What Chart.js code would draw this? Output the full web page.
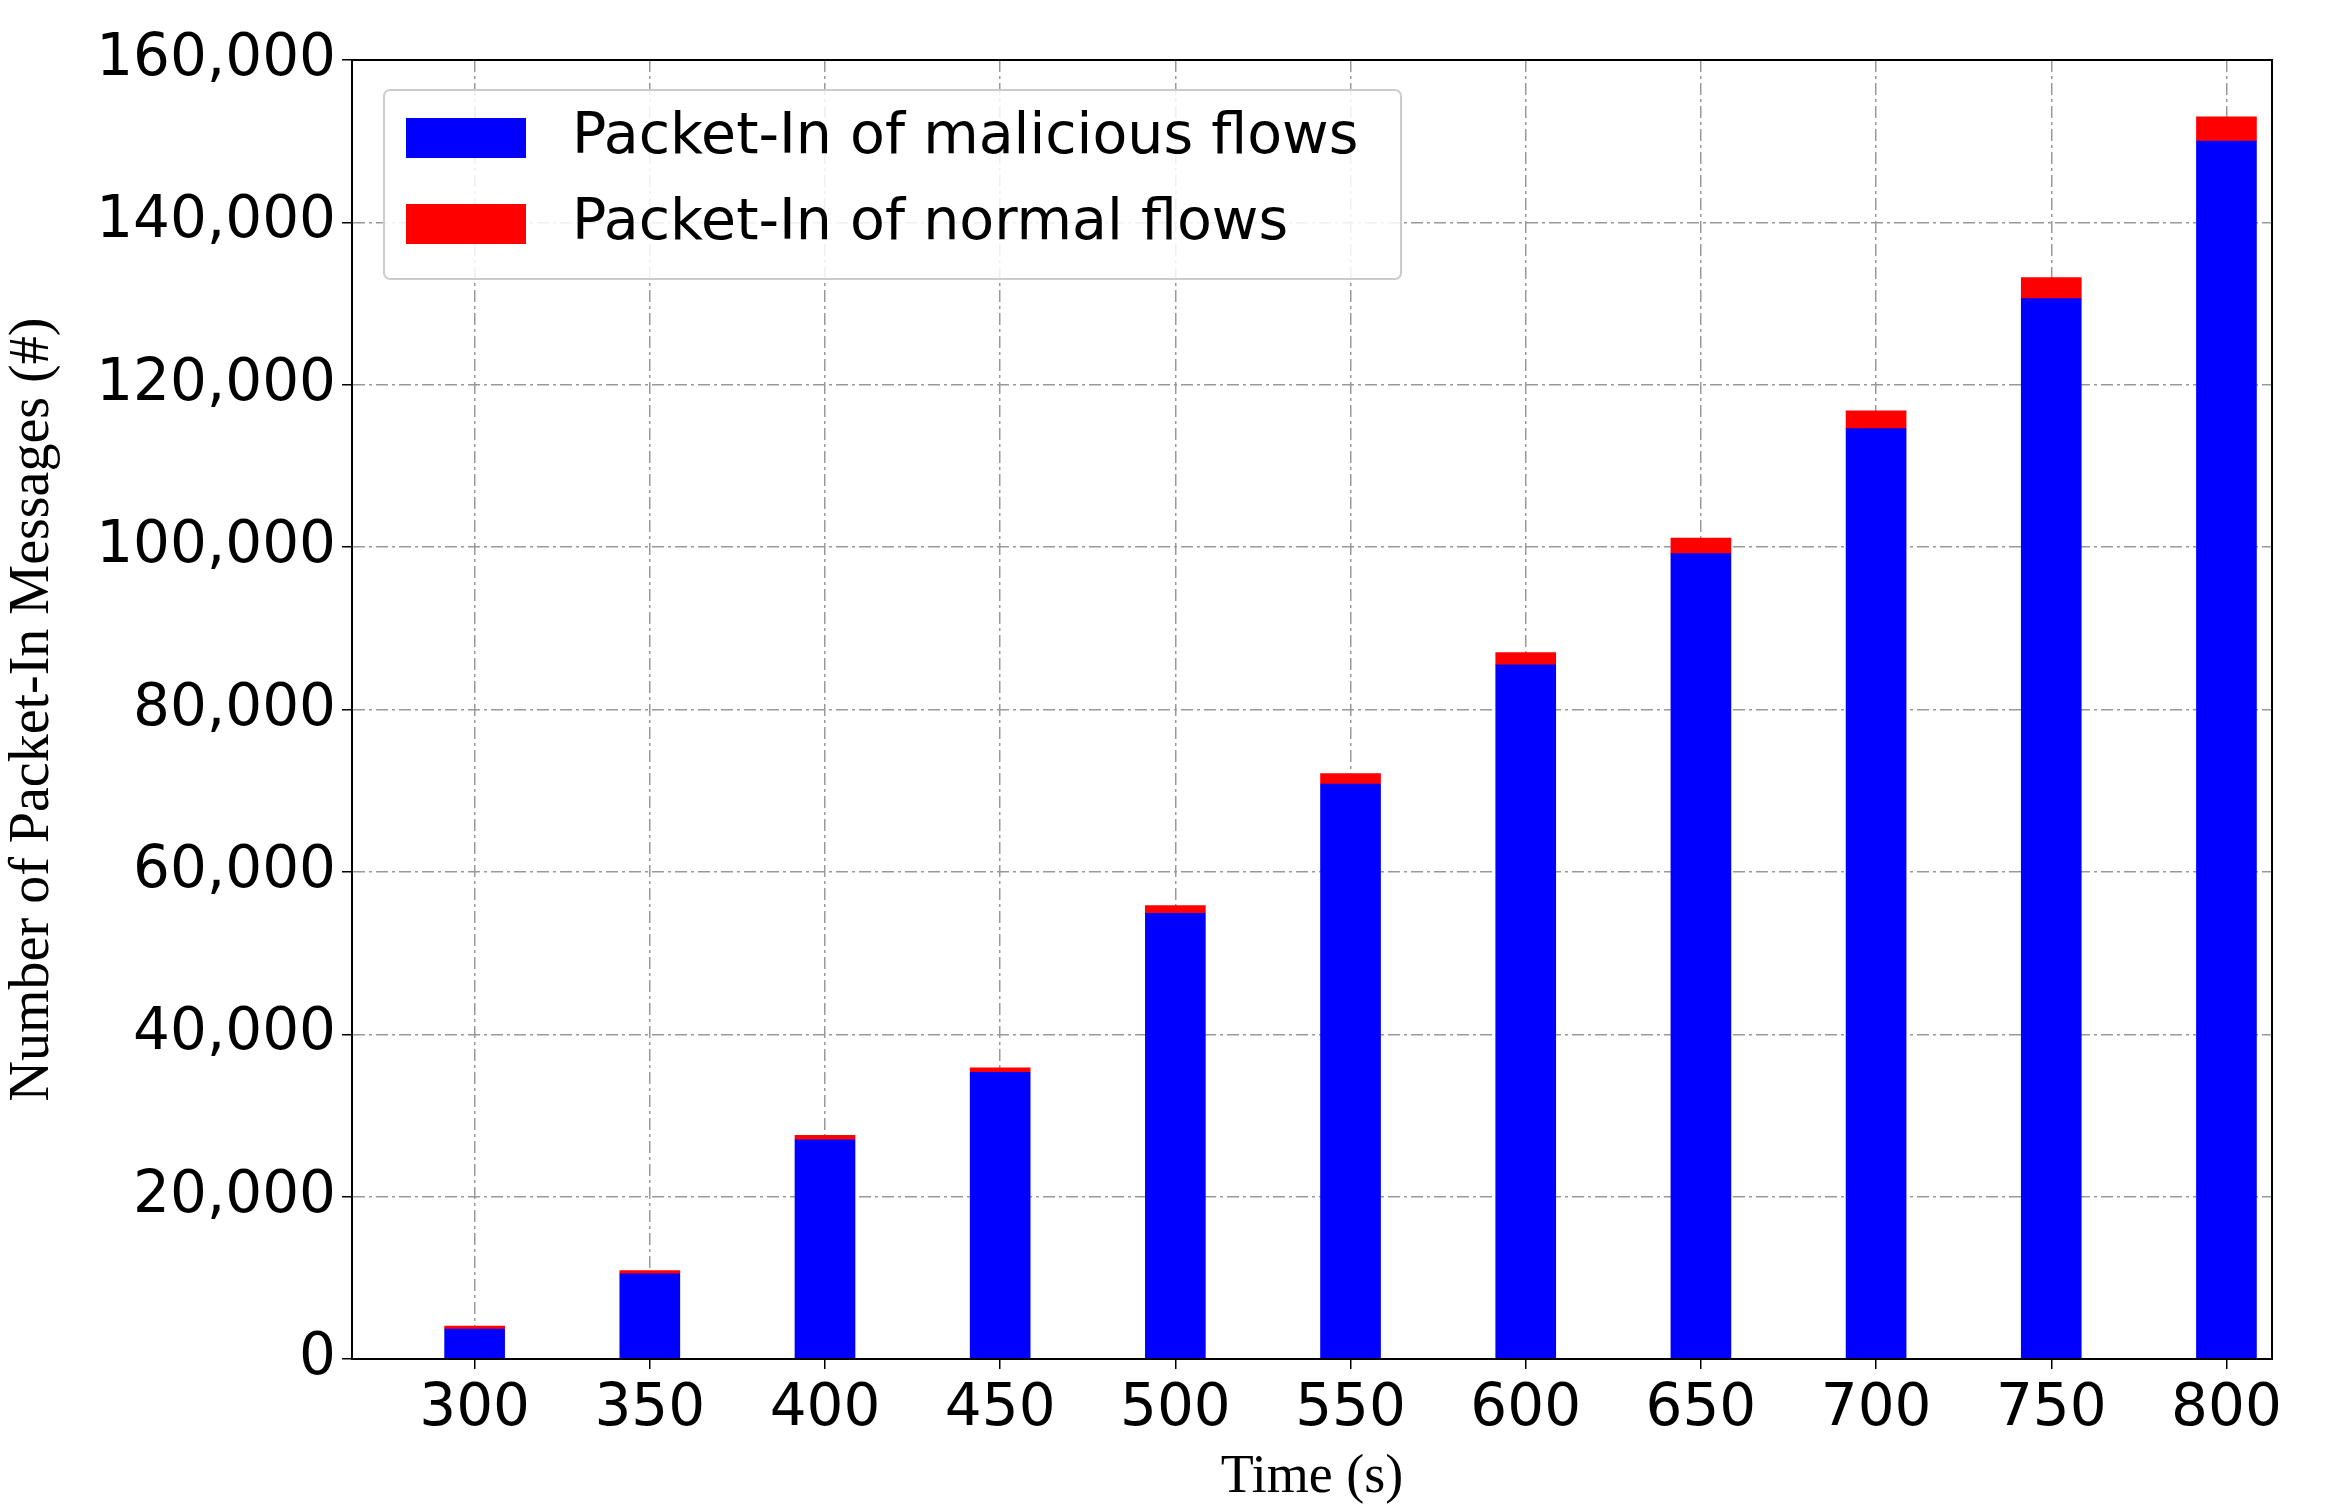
<!DOCTYPE html>
<html>
<head>
<meta charset="utf-8">
<script src="https://cdn.jsdelivr.net/npm/chart.js@4/dist/chart.umd.min.js"></script>
<style>
  html, body { margin: 0; padding: 0; background: #fff; }
  #wrap { width: 2339px; height: 1510px; }
</style>
</head>
<body>
<div id="wrap"><canvas id="chart" width="2339" height="1510"></canvas></div>
<script>
// bar data
const times = [300, 350, 400, 450, 500, 550, 600, 650, 700, 750, 800];
const malicious = [3700, 10500, 27000, 35300, 54900, 70800, 85500, 99200, 114600, 130600, 150000];
const normal = [350, 400, 550, 550, 950, 1300, 1500, 1900, 2200, 2600, 3000];
const yTicks = [0, 20000, 40000, 60000, 80000, 100000, 120000, 140000, 160000];

const legendLabels = ['Packet-In of malicious flows', 'Packet-In of normal flows'];
const colors = ['#0000ff', '#ff0000'];

// legend drawn inside the plot, top-left, matplotlib style
const innerLegend = {
  id: 'innerLegend',
  afterDraw(chart) {
    const c = chart.ctx;
    const x = 384, y = 90, w = 1017, h = 189;
    c.save();
    c.fillStyle = 'rgba(255,255,255,0.85)';
    c.strokeStyle = '#cccccc';
    c.lineWidth = 2;
    c.beginPath();
    c.roundRect(x, y, w, h, 6);
    c.fill(); c.stroke();
    c.font = '57px "DejaVu Sans"';
    c.textBaseline = 'middle';
    legendLabels.forEach((lab, i) => {
      const cy = 138 + i * 86;
      c.fillStyle = colors[i];
      c.fillRect(406, cy - 20, 120, 40);
      c.fillStyle = '#000';
      c.fillText(lab, 572, cy);
    });
    c.restore();
  }
};

const gridOpts = { color: '#999', lineWidth: 1.5, offset: false, tickColor: '#000', tickLength: 10 };
const borderOpts = { display: true, color: '#000', width: 2, dash: [12, 4, 3, 4] };

new Chart(document.getElementById('chart'), {
  type: 'bar',
  data: {
    datasets: [
      { label: legendLabels[0], data: times.map((t, i) => ({ x: t, y: malicious[i] })), backgroundColor: colors[0], barThickness: 60 },
      { label: legendLabels[1], data: times.map((t, i) => ({ x: t, y: normal[i] })), backgroundColor: colors[1], barThickness: 60 },
    ]
  },
  options: {
    responsive: false,
    animation: false,
    layout: { padding: { top: 60, right: 67, left: 0, bottom: 0 } },
    plugins: { legend: { display: false }, tooltip: { enabled: false } },
    scales: {
      x: {
        type: 'linear', stacked: true, min: 265, max: 813, offset: false,
        afterBuildTicks: s => { s.ticks = times.map(v => ({ value: v })); },
        afterFit: s => { s.height = 151; },
        ticks: { color: '#000', font: { family: 'DejaVu Sans', size: 58 }, padding: 6 },
        grid: gridOpts,
        border: borderOpts,
        title: { display: true, text: 'Time (s)', color: '#000', font: { family: 'Liberation Serif', size: 54 }, padding: 0 }
      },
      y: {
        stacked: true, min: 0, max: 160000,
        afterBuildTicks: s => { s.ticks = yTicks.map(v => ({ value: v })); },
        afterFit: s => { s.width = 352; },
        ticks: { color: '#000', font: { family: 'DejaVu Sans', size: 58 }, padding: 6, callback: v => v.toLocaleString('en-US') },
        grid: gridOpts,
        border: borderOpts,
        title: { display: true, text: 'Number of Packet-In Messages (#)', color: '#000', font: { family: 'Liberation Serif', size: 56 }, padding: 0 }
      }
    }
  },
  plugins: [innerLegend, {
    id: 'frame',
    afterDraw(chart) {
      const a = chart.chartArea, c = chart.ctx;
      c.save(); c.strokeStyle = '#000'; c.lineWidth = 2; c.setLineDash([]);
      c.strokeRect(a.left, a.top, a.right - a.left, a.bottom - a.top);
      c.restore();
    }
  }]
});
</script>
</body>
</html>
